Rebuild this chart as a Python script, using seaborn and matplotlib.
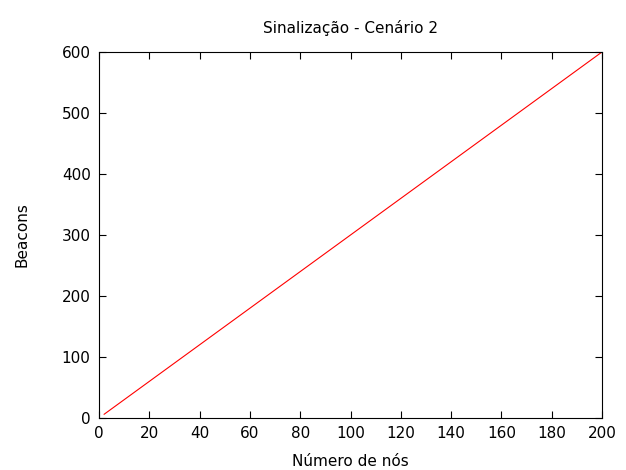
import numpy as np
import pandas as pd
import seaborn as sb
import matplotlib.pyplot as plt

nos = [2, 50, 100, 150, 200]
beacons = [6, 150, 300, 450, 600]

data = pd.DataFrame({"nos": nos, "beacons": beacons})

sb.set_style("ticks")
plt.rcParams['font.family'] = ['DejaVu Sans']
plt.rcParams['text.color'] = 'black'
plt.rcParams['axes.labelcolor'] = 'black'

fig = plt.figure(figsize=(6.26, 4.70), dpi=100)
ax = fig.add_axes([99/626, 1 - 418/470, (602-99)/626, (418-52)/470])

sb.lineplot(data=data, x="nos", y="beacons", color="red", linewidth=0.8, ax=ax)

ax.set_xlim(0, 200)
ax.set_ylim(0, 600)
ax.set_xticks(range(0, 201, 20))
ax.set_yticks(range(0, 601, 100))
ax.tick_params(direction="in", top=True, right=True, labelsize=11, length=5, width=0.8, colors="black", pad=6)
for s in ax.spines.values():
    s.set_visible(True)
    s.set_color("black")
    s.set_linewidth(0.8)

ax.set_xlabel("Número de nós", fontsize=11, labelpad=9, color="black")
ax.set_ylabel("Beacons", fontsize=11, labelpad=23, color="black")
ax.set_title("Sinalização - Cenário 2", fontsize=11, pad=14, color="black")

plt.savefig("out.png", dpi=100)
